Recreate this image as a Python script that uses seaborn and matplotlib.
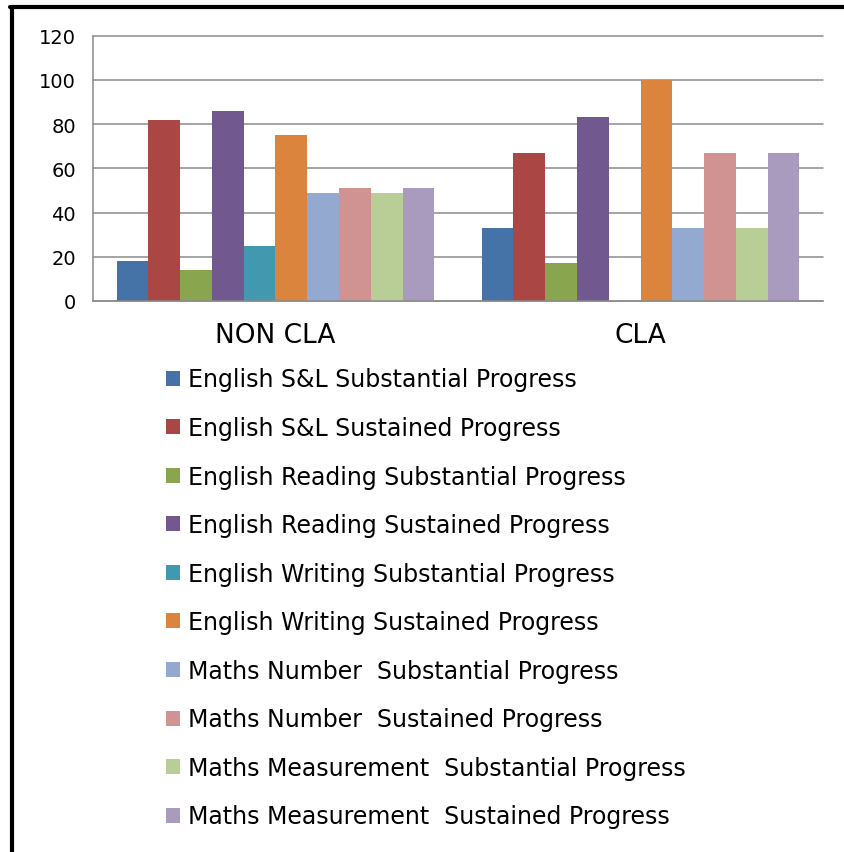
import numpy as np
import pandas as pd
import matplotlib.pyplot as plt
from matplotlib.lines import Line2D
from matplotlib.patches import Patch
import seaborn as sns

sns.set_style("white")
plt.rcParams["font.family"] = ["DejaVu Sans"]
plt.rcParams["text.color"] = "black"
plt.rcParams["xtick.color"] = "black"
plt.rcParams["ytick.color"] = "black"

groups = ["NON CLA", "CLA"]
series = [
    "English S&L Substantial Progress",
    "English S&L Sustained Progress",
    "English Reading Substantial Progress",
    "English Reading Sustained Progress",
    "English Writing Substantial Progress",
    "English Writing Sustained Progress",
    "Maths Number  Substantial Progress",
    "Maths Number  Sustained Progress",
    "Maths Measurement  Substantial Progress",
    "Maths Measurement  Sustained Progress",
]
non_cla = [18, 82, 14, 86, 25, 75, 49, 51, 49, 51]
cla = [33, 67, 17, 83, 0, 100, 33, 67, 33, 67]
colors = ["#4572A7", "#AA4643", "#89A54E", "#71588F", "#4198AF",
          "#DB843D", "#93A9CF", "#D19392", "#B9CD96", "#A99BBD"]

rows = []
for s, a, b in zip(series, non_cla, cla):
    rows.append({"group": groups[0], "series": s, "value": a})
    rows.append({"group": groups[1], "series": s, "value": b})
df = pd.DataFrame(rows)

fig = plt.figure(figsize=(8.45, 8.53), dpi=100)
ax = fig.add_axes([0.110, 0.646, 0.864, 0.311])

sns.barplot(data=df, x="group", y="value", hue="series", order=groups,
            hue_order=series, palette=colors, width=0.87, saturation=1,
            linewidth=0, ax=ax, legend=False)

grid_c = "#8c8c8c"
ax.set_ylim(0, 120)
ax.set_yticks(np.arange(0, 121, 20))
ax.set_xlim(-0.5, 1.5)
ax.yaxis.grid(True, color=grid_c, linewidth=1.1)
for gl in ax.get_ygridlines():
    gl.set_clip_on(False)
ax.set_axisbelow(True)
ax.set_xlabel("")
ax.set_ylabel("")
for side in ["top", "right"]:
    ax.spines[side].set_visible(False)
for side in ["left", "bottom"]:
    ax.spines[side].set_color(grid_c)
    ax.spines[side].set_linewidth(1.1)

ax.tick_params(axis="y", length=5.8, width=1.1, color=grid_c, labelcolor="black",
               labelsize=14, pad=6.5)
ax.tick_params(axis="x", which="major", length=0, labelcolor="black", labelsize=19, pad=15)
ax.set_xticks([-0.5, 0.5, 1.5], minor=True)
ax.tick_params(axis="x", which="minor", length=5.8, width=1.1, color=grid_c, direction="out")

handles = [Patch(facecolor=c, edgecolor="none") for c in colors]
fig.legend(handles, series, loc="upper left", bbox_to_anchor=(0.196, 0.568),
           frameon=False, fontsize=17, borderpad=0, borderaxespad=0,
           handlelength=0.6, handleheight=0.6, handletextpad=0.35,
           labelspacing=1.04, labelcolor="black")

fig.add_artist(Line2D([0.014, 0.014], [0, 0.991], color="black", linewidth=3,
                      transform=fig.transFigure))
fig.add_artist(Line2D([0.012, 1.0], [0.991, 0.991], color="black", linewidth=3,
                      transform=fig.transFigure))

fig.savefig("out.png", dpi=100)
